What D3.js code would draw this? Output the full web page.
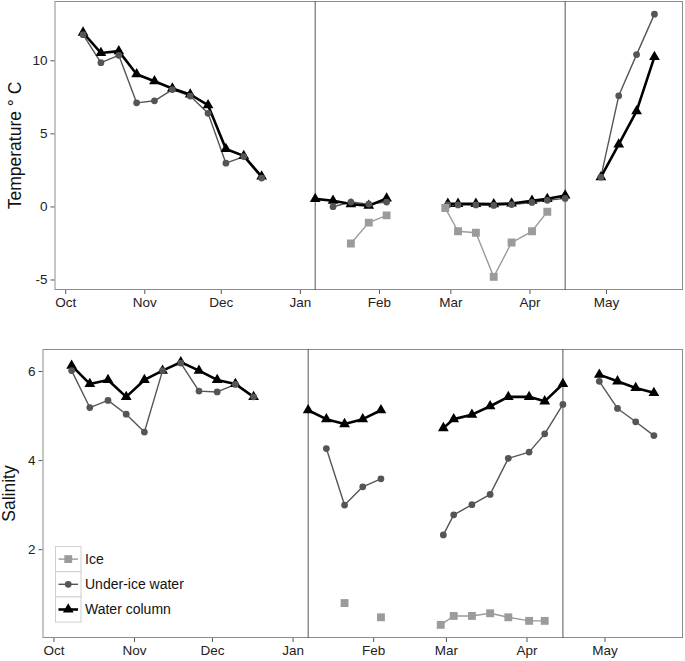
<!DOCTYPE html>
<html>
<head>
<meta charset="utf-8">
<script src="https://cdn.jsdelivr.net/npm/d3@7"></script>
<style>
  html, body { margin: 0; padding: 0; background: #fff; }
  svg { display: block; font-family: "Liberation Sans", Arial, sans-serif; }
</style>
</head>
<body>
<svg id="chart" width="685" height="661"></svg>
<script>
// ---- Data ----
const seriesNames = ["Ice", "Under-ice water", "Water column"];
const monthTicks = ["Oct", "Nov", "Dec", "Jan", "Feb", "Mar", "Apr", "May"];
const periodBreaks = ["2011-01-07", "2011-04-15"];

// sampling dates for water column & under-ice water, with segment ids
const waterDates = [
  "2010-10-08","2010-10-15","2010-10-22","2010-10-29","2010-11-05","2010-11-12",
  "2010-11-19","2010-11-26","2010-12-03","2010-12-10","2010-12-17",
  "2011-01-07","2011-01-14","2011-01-21","2011-01-28","2011-02-04",
  "2011-02-28","2011-03-04","2011-03-11","2011-03-18","2011-03-25","2011-04-02","2011-04-08","2011-04-15",
  "2011-04-29","2011-05-06","2011-05-13","2011-05-20"
];
const waterSegments = [1,1,1,1,1,1,1,1,1,1,1, 2,2,2,2,2, 3,3,3,3,3,3,3,3, 4,4,4,4];

const tempWaterColumn = [11.9,10.5,10.63,9.05,8.57,8.07,7.66,6.93,3.93,3.46,2.05,
  0.52,0.39,0.16,0.05,0.55,
  0.18,0.18,0.18,0.16,0.2,0.39,0.52,0.75,
  2.0,4.25,6.52,10.23];
const tempUnderIce = [11.75,9.84,10.34,7.09,7.23,8.0,7.55,6.37,2.96,3.41,1.94,
  null,-0.02,0.3,0.16,0.3,
  0.1,0.1,0.1,0.07,0.13,0.27,0.42,0.55,
  2.0,7.57,10.39,13.16];

const salWaterColumn = [6.12,5.71,5.8,5.42,5.8,6.01,6.2,6.01,5.8,5.71,5.42,
  5.12,4.92,4.81,4.92,5.12,
  4.72,4.92,5.02,5.21,5.42,5.42,5.32,5.71,
  5.92,5.77,5.62,5.51];
const salUnderIce = [6.01,5.18,5.34,5.03,4.63,6.01,6.18,5.55,5.53,5.7,5.42,
  null,4.26,2.99,3.4,3.58,
  2.32,2.77,3.0,3.23,4.04,4.18,4.59,5.25,
  5.77,5.16,4.86,4.55];

// ice sampling
const iceDates = ["2011-01-21","2011-01-28","2011-02-04",
  "2011-02-27","2011-03-04","2011-03-11","2011-03-18","2011-03-25","2011-04-02","2011-04-08"];
const iceSegments = [2,2,2, 3,3,3,3,3,3,3];
const tempIce = [-2.54,-1.11,-0.61, -0.11,-1.7,-1.8,-4.82,-2.47,-1.7,-0.36];
const salIce = [0.79,null,0.47, 0.3,0.5,0.5,0.56,0.47,0.39,0.39];

// ---- Drawing ----
const parse = d3.timeParse("%Y-%m-%d");
const svg = d3.select("#chart");

const styles = {
  "Ice": { color: "#9b9b9b", width: 1.4, symbol: d3.symbolSquare, size: 62 },
  "Under-ice water": { color: "#555555", width: 1.4, symbol: d3.symbolCircle, size: 36 },
  "Water column": { color: "#000000", width: 2.6, symbol: d3.symbolTriangle, size: 50 }
};

function buildSeries(name, dates, segs, vals) {
  return { name, pts: dates.map((d, i) => ({ date: parse(d), seg: segs[i], v: vals[i] })) };
}

const allDates = waterDates.concat(iceDates).map(parse);
const dExt = d3.extent(allDates);
const dPad = (dExt[1] - dExt[0]) * 0.05;
const xDomain = [new Date(+dExt[0] - dPad), new Date(+dExt[1] + dPad)];

function panel(cfg) {
  const g = svg.append("g");
  const x = d3.scaleTime().domain(xDomain).range([cfg.left, cfg.right]);
  const allV = cfg.series.flatMap(s => s.pts.map(p => p.v)).filter(v => v != null);
  const vExt = d3.extent(allV);
  const vPad = (vExt[1] - vExt[0]) * 0.05;
  const y = d3.scaleLinear().domain([vExt[0] - vPad, vExt[1] + vPad]).range([cfg.bottom, cfg.top]);

  // clip
  const clipId = "clip" + cfg.id;
  svg.append("clipPath").attr("id", clipId).append("rect")
    .attr("x", cfg.left).attr("y", cfg.top).attr("width", cfg.right - cfg.left).attr("height", cfg.bottom - cfg.top);

  // axes
  const xAxis = d3.axisBottom(x).ticks(d3.timeMonth.every(1))
    .tickFormat((d) => monthTicks[(d.getMonth() + 3) % 12] || d3.timeFormat("%b")(d))
    .tickSize(4).tickPadding(3);
  const gx = g.append("g").attr("transform", `translate(0,${cfg.bottom})`).call(xAxis);
  gx.select(".domain").remove();
  gx.selectAll("line").attr("stroke", "#555");
  gx.selectAll("text").attr("fill", "#222").style("font-size", "13.5px");

  const yAxis = d3.axisLeft(y).ticks(cfg.yTicks).tickFormat(d => String(d)).tickSize(4).tickPadding(3);
  const gy = g.append("g").attr("transform", `translate(${cfg.left},0)`).call(yAxis);
  gy.select(".domain").remove();
  gy.selectAll("line").attr("stroke", "#555");
  gy.selectAll("text").attr("fill", "#222").style("font-size", "13.5px");

  // y title
  g.append("text").attr("transform", `translate(${cfg.titleX},${(cfg.top + cfg.bottom) / 2}) rotate(-90)`)
    .attr("text-anchor", "middle").attr("dominant-baseline", "central")
    .style("font-size", "17.5px").attr("fill", "#111").text(cfg.title);

  // border
  g.append("rect").attr("x", cfg.left + 0.5).attr("y", cfg.top + 0.5)
    .attr("width", cfg.right - cfg.left - 1).attr("height", cfg.bottom - cfg.top - 1)
    .attr("fill", "none").attr("stroke", "#8c8c8c").attr("stroke-width", 1);

  // vertical period lines
  g.selectAll(".vline").data(periodBreaks.map(parse)).join("line")
    .attr("x1", d => x(d)).attr("x2", d => x(d))
    .attr("y1", cfg.top).attr("y2", cfg.bottom)
    .attr("stroke", "#555").attr("stroke-width", 1);

  const plot = g.append("g").attr("clip-path", `url(#${clipId})`);

  const line = d3.line().defined(p => p.v != null).x(p => x(p.date)).y(p => y(p.v));

  cfg.series.forEach(s => {
    const st = styles[s.name];
    const segs = d3.groups(s.pts, p => p.seg);
    segs.forEach(([k, pts]) => {
      plot.append("path").attr("d", line(pts)).attr("fill", "none")
        .attr("stroke", st.color).attr("stroke-width", st.width).attr("stroke-linejoin", "round");
    });
  });
  ["Water column", "Under-ice water", "Ice"].forEach(name => {
    const s = cfg.series.find(q => q.name === name);
    const st = styles[name];
    plot.selectAll(null).data(s.pts.filter(p => p.v != null)).join("path")
      .attr("d", d3.symbol().type(st.symbol).size(st.size)())
      .attr("transform", p => `translate(${x(p.date)},${y(p.v)})`)
      .attr("fill", st.color);
  });
}

panel({
  id: "T", left: 54.5, right: 683, top: 1, bottom: 290, titleX: 15, yTicks: 4,
  title: "Temperature \u00B0 C",
  series: [
    buildSeries("Ice", iceDates, iceSegments, tempIce),
    buildSeries("Under-ice water", waterDates, waterSegments, tempUnderIce),
    buildSeries("Water column", waterDates, waterSegments, tempWaterColumn)
  ]
});

panel({
  id: "S", left: 42.5, right: 683, top: 349, bottom: 638, titleX: 9, yTicks: 3,
  title: "Salinity",
  series: [
    buildSeries("Ice", iceDates, iceSegments, salIce),
    buildSeries("Under-ice water", waterDates, waterSegments, salUnderIce),
    buildSeries("Water column", waterDates, waterSegments, salWaterColumn)
  ]
});

// legend
const lg = svg.append("g").attr("transform", "translate(55.5,546.5)");
const keyW = 25.5, keyH = 25.2;
seriesNames.forEach((name, i) => {
  const st = styles[name];
  const k = lg.append("g").attr("transform", `translate(0,${i * keyH})`);
  k.append("rect").attr("width", keyW).attr("height", keyH).attr("fill", "#fff")
    .attr("stroke", "#cfcfcf").attr("stroke-width", 1);
  k.append("line").attr("x1", 3).attr("x2", keyW - 3).attr("y1", keyH / 2).attr("y2", keyH / 2)
    .attr("stroke", st.color).attr("stroke-width", st.width);
  k.append("path").attr("d", d3.symbol().type(st.symbol).size(st.size)())
    .attr("transform", `translate(${keyW / 2},${keyH / 2})`).attr("fill", st.color);
  k.append("text").attr("x", keyW + 4).attr("y", keyH / 2).attr("dominant-baseline", "central")
    .style("font-size", "14px").attr("fill", "#111").text(name);
});
</script>
</body>
</html>
